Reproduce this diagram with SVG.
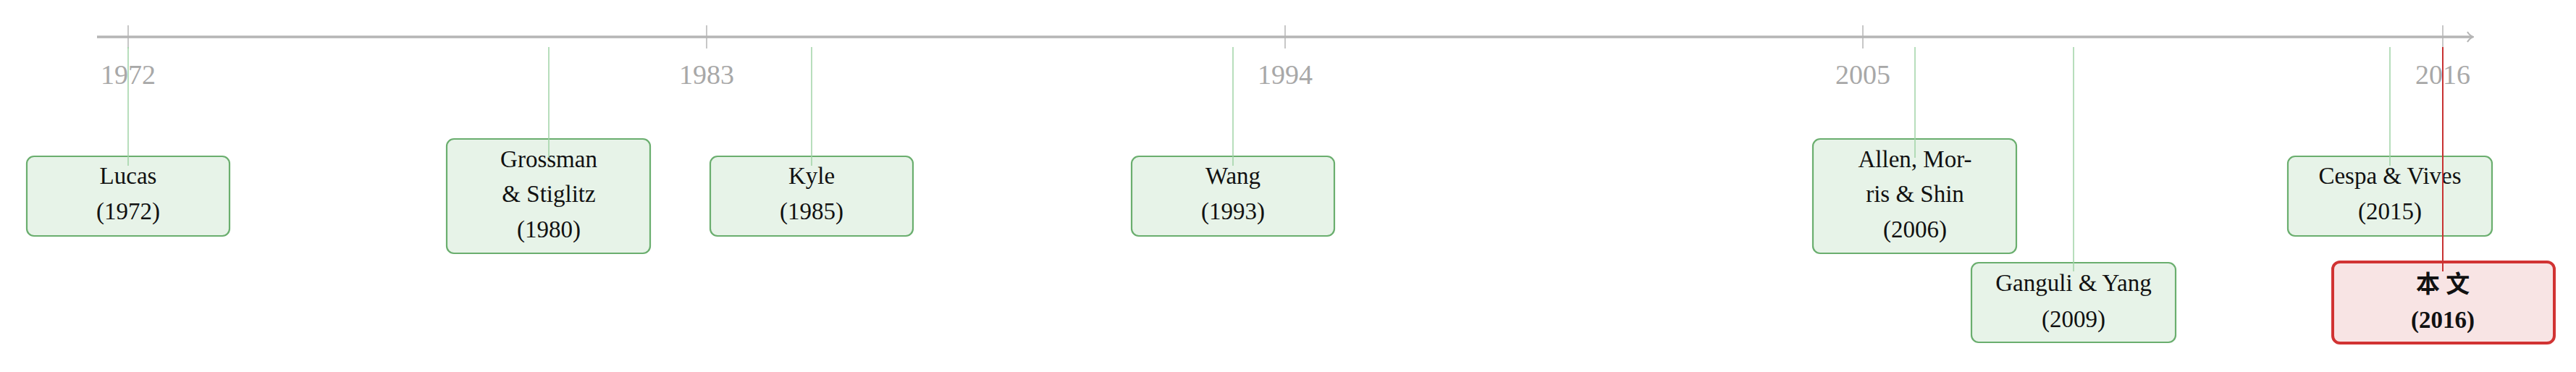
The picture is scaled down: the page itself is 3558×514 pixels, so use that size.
<svg xmlns="http://www.w3.org/2000/svg" width="3558" height="514" viewBox="0 0 3558 514">
<style>
.ax{stroke:#b5b5b5;stroke-width:3.5;fill:none}
.tk{stroke:#b5b5b5;stroke-width:1.5}
.yr{font-family:"Liberation Serif",serif;font-size:38px;fill:#a8a8a8;text-anchor:middle}
.c{stroke:#9fd3a6;stroke-width:1.5}
.cr{stroke:#c83232;stroke-width:2}
.b{fill:#e7f3e8;stroke:#6aae6e;stroke-width:2.2}
.br{fill:#f8e4e4;stroke:#d13333;stroke-width:4}
.t{font-family:"Liberation Serif","Noto Sans CJK SC",serif;font-size:33px;fill:#111;text-anchor:middle}
.bt{font-weight:bold}
</style>
<defs><marker id="ar" markerWidth="10" markerHeight="16" refX="8" refY="8" orient="auto" markerUnits="userSpaceOnUse"><path d="M1,1 Q4,6 9,8 Q4,10 1,15" fill="none" stroke="#b5b5b5" stroke-width="2"/></marker></defs>
<g id="axis">
<line class="ax" x1="134" y1="51" x2="3415" y2="51" marker-end="url(#ar)"/>
<line class="tk" x1="177" y1="35" x2="177" y2="67"/><text class="yr" x="177" y="116">1972</text>
<line class="tk" x1="976" y1="35" x2="976" y2="67"/><text class="yr" x="976" y="116">1983</text>
<line class="tk" x1="1775" y1="35" x2="1775" y2="67"/><text class="yr" x="1775" y="116">1994</text>
<line class="tk" x1="2573" y1="35" x2="2573" y2="67"/><text class="yr" x="2573" y="116">2005</text>
<line class="tk" x1="3374" y1="35" x2="3374" y2="67"/><text class="yr" x="3374" y="116">2016</text>
</g>
<g transform="translate(0,6)">
<g id="n1"><rect class="b" x="37" y="210" width="280" height="110" rx="10"/><text class="t" x="177" y="248">Lucas</text><text class="t" x="177" y="297">(1972)</text></g>
<g id="n2"><rect class="b" x="617" y="186" width="281" height="158" rx="10"/><text class="t" x="758" y="225">Grossman</text><text class="t" x="758" y="273">&amp; Stiglitz</text><text class="t" x="758" y="322">(1980)</text></g>
<g id="n3"><rect class="b" x="981" y="210" width="280" height="110" rx="10"/><text class="t" x="1121" y="248">Kyle</text><text class="t" x="1121" y="297">(1985)</text></g>
<g id="n4"><rect class="b" x="1563" y="210" width="280" height="110" rx="10"/><text class="t" x="1703" y="248">Wang</text><text class="t" x="1703" y="297">(1993)</text></g>
<g id="n5"><rect class="b" x="2504" y="186" width="281" height="158" rx="10"/><text class="t" x="2645" y="225">Allen, Mor-</text><text class="t" x="2645" y="273">ris &amp; Shin</text><text class="t" x="2645" y="322">(2006)</text></g>
<g id="n6"><rect class="b" x="2723" y="357" width="282" height="110" rx="10"/><text class="t" x="2864" y="396">Ganguli &amp; Yang</text><text class="t" x="2864" y="446">(2009)</text></g>
<g id="n7"><rect class="b" x="3160" y="210" width="282" height="110" rx="10"/><text class="t" x="3301" y="248">Cespa &amp; Vives</text><text class="t" x="3301" y="297">(2015)</text></g>
<g id="n8"><rect class="br" x="3222" y="356" width="306" height="112" rx="10"/><text class="t bt" x="3374" y="398">本 文</text><text class="t bt" x="3374" y="447">(2016)</text></g>
</g>
<g id="connectors">
<line class="c" x1="177" y1="65" x2="177" y2="229"/>
<line class="c" x1="758" y1="65" x2="758" y2="218"/>
<line class="c" x1="1121" y1="65" x2="1121" y2="229"/>
<line class="c" x1="1703" y1="65" x2="1703" y2="229"/>
<line class="c" x1="2645" y1="65" x2="2645" y2="218"/>
<line class="c" x1="2864" y1="65" x2="2864" y2="375"/>
<line class="c" x1="3301" y1="65" x2="3301" y2="229"/>
<line class="cr" x1="3374" y1="65" x2="3374" y2="375"/>
</g>
</svg>
